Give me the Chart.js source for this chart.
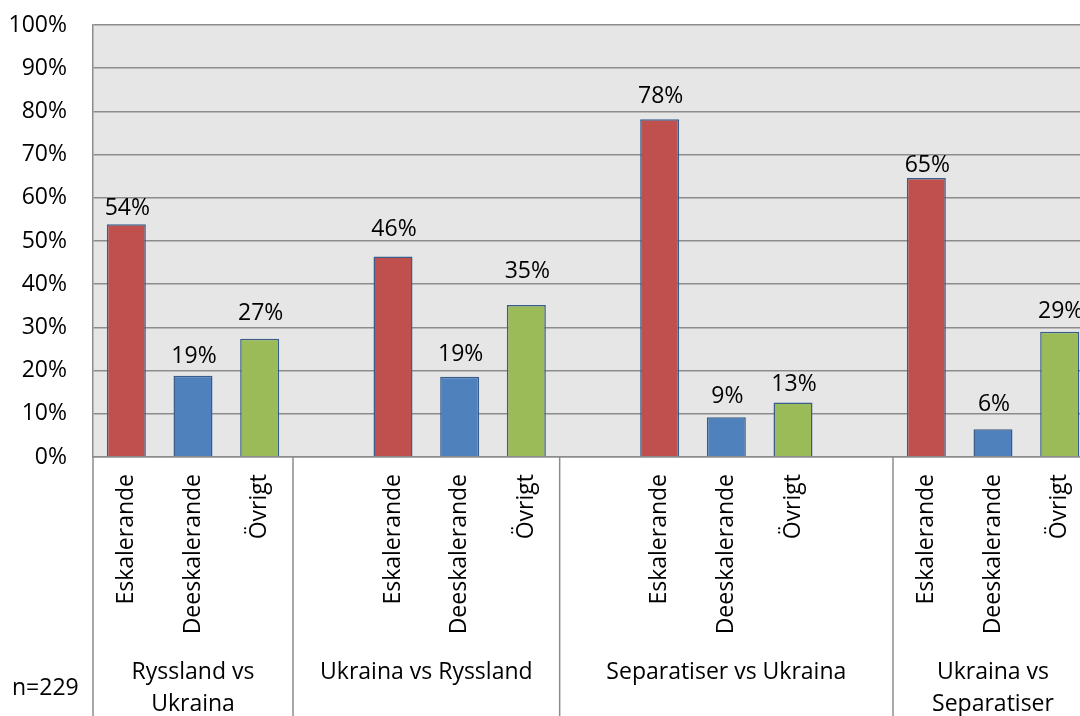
<!DOCTYPE html>
<html lang="sv">
<head>
<meta charset="UTF-8">
<title>Eskalerande / Deeskalerande</title>
<script src="https://cdn.jsdelivr.net/npm/chart.js"></script>
<style>
  html, body { margin: 0; padding: 0; background: #fff; overflow: hidden; }
  #wrap { position: absolute; left: 0; top: 0; width: 1100px; height: 716px; }
</style>
</head>
<body>
<div id="wrap"><canvas id="chart" width="1100" height="716"></canvas></div>
<script>
// data
const groups = ['Ryssland vs\nUkraina', 'Ukraina vs Ryssland', 'Separatiser vs Ukraina', 'Ukraina vs\nSeparatiser'];
const kinds = ['Eskalerande', 'Deeskalerande', 'Övrigt'];
const eskalerande = [53.9, 46.4, 78.2, 64.6];
const deeskalerande = [18.8, 18.6, 9.2, 6.4];
const ovrigt = [27.4, 35.2, 12.6, 29.0];
const yTicks = [0, 10, 20, 30, 40, 50, 60, 70, 80, 90, 100];
const note = 'n=229';

// empty category slots before / after each group (as in the original sheet)
const gapsBefore = [0, 1, 1, 0];
const gapsAfter = [0, 0, 1, 0];

// styling
const kindColors = ['#c0504d', '#4f81bd', '#9bbb59'];
const FONT = "'Open Sans', 'Noto Sans', sans-serif";
const FS = 23;
// distance from bar top to label baseline, per bar (labels were nudged by hand in the original)
const labelGap = [9, 13, 19, 21, 16, 27, 16, 14, 12, 6, 18, 14];

const labels = [], values = [], colors = [], spans = [];
groups.forEach((g, i) => {
  const start = labels.length;
  for (let k = 0; k < gapsBefore[i]; k++) { labels.push(''); values.push(null); colors.push('#fff'); }
  const vals = [eskalerande[i], deeskalerande[i], ovrigt[i]];
  kinds.forEach((name, k) => { labels.push(name); values.push(vals[k]); colors.push(kindColors[k]); });
  for (let k = 0; k < gapsAfter[i]; k++) { labels.push(''); values.push(null); colors.push('#fff'); }
  spans.push([start, labels.length - 1]);
});

const plotBg = {
  id: 'plotBg',
  beforeDraw(chart) {
    const { ctx, chartArea: a } = chart;
    ctx.save();
    ctx.fillStyle = '#e6e6e6';
    ctx.fillRect(a.left, a.top, a.right - a.left, a.bottom - a.top);
    ctx.restore();
  }
};

const barLabels = {
  id: 'barLabels',
  afterDatasetsDraw(chart) {
    const { ctx } = chart;
    const meta = chart.getDatasetMeta(0);
    ctx.save();
    ctx.font = FS + 'px ' + FONT;
    ctx.fillStyle = '#000';
    ctx.textAlign = 'center';
    ctx.textBaseline = 'alphabetic';
    let n = 0;
    meta.data.forEach((bar, i) => {
      const v = values[i];
      if (v === null) return;
      ctx.fillText(Math.round(v) + '%', bar.x + 1, bar.y - labelGap[n++]);
    });
    ctx.restore();
  }
};

const groupAxis = {
  id: 'groupAxis',
  afterDraw(chart) {
    const { ctx, chartArea: a } = chart;
    const xs = chart.scales.x;
    const slot = xs.getPixelForValue(1) - xs.getPixelForValue(0);
    const bottom = chart.height;
    ctx.save();
    ctx.strokeStyle = '#8c8c8c';
    ctx.lineWidth = 1.5;
    ctx.font = FS + 'px ' + FONT;
    ctx.fillStyle = '#000';
    ctx.textAlign = 'center';
    ctx.textBaseline = 'middle';
    spans.forEach(([s, e], i) => {
      const left = xs.getPixelForValue(s) - slot / 2;
      const right = xs.getPixelForValue(e) + slot / 2;
      ctx.beginPath();
      if (i === 0) { ctx.moveTo(left, a.bottom); ctx.lineTo(left, bottom); }
      ctx.moveTo(right, a.bottom); ctx.lineTo(right, bottom);
      ctx.stroke();
      groups[i].split('\n').forEach((line, j) => {
        ctx.fillText(line, (left + right) / 2, 672 + j * 32);
      });
    });
    ctx.textAlign = 'left';
    ctx.fillText(note, 12, 688);
    ctx.restore();
  }
};

new Chart(document.getElementById('chart'), {
  type: 'bar',
  data: {
    labels: labels,
    datasets: [{
      data: values,
      backgroundColor: colors,
      borderColor: '#385d8a',
      borderWidth: 1.5,
      barPercentage: 0.585,
      categoryPercentage: 1
    }]
  },
  options: {
    responsive: false,
    animation: false,
    layout: { padding: { top: 25, right: 7, left: 0, bottom: 0 } },
    plugins: { legend: { display: false }, tooltip: { enabled: false } },
    scales: {
      x: {
        grid: { display: false, drawTicks: false },
        border: { display: true, color: '#8c8c8c', width: 1.5 },
        ticks: {
          autoSkip: false, maxRotation: 90, minRotation: 90, padding: 17,
          color: '#000', font: { family: FONT, size: FS }
        },
        afterFit(s) { s.height = 259; s.paddingLeft = 0; s.paddingRight = 0; }
      },
      y: {
        min: 0, max: 100,
        afterBuildTicks(s) { s.ticks = yTicks.map(v => ({ value: v })); },
        grid: { color: '#8c8c8c', lineWidth: 1.5, drawTicks: false },
        border: { display: true, color: '#8c8c8c', width: 1.5 },
        ticks: {
          padding: 26, color: '#000', font: { family: FONT, size: FS },
          callback: v => v + '%'
        },
        afterFit(s) { s.width = 93; s.paddingTop = 0; s.paddingBottom = 0; }
      }
    }
  },
  plugins: [plotBg, barLabels, groupAxis]
});
</script>
</body>
</html>
